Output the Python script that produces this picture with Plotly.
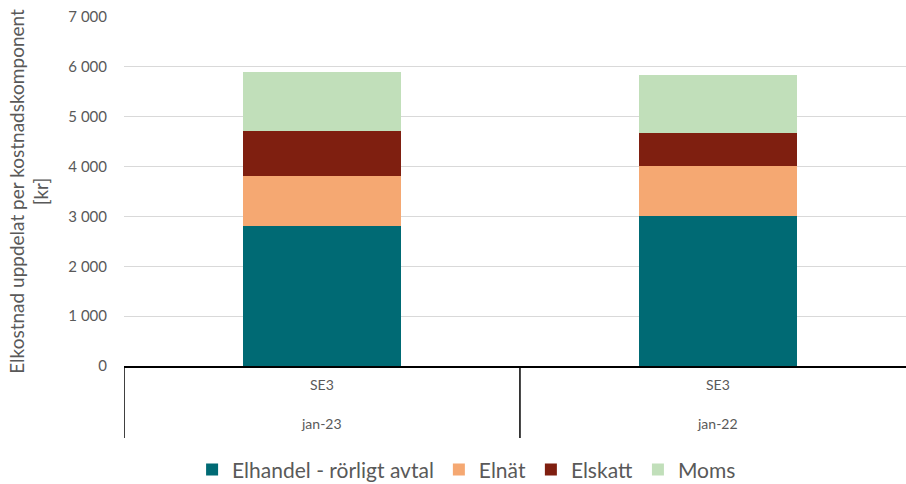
import plotly.graph_objects as go

# Period and price area for each stacked bar
periods = ["jan-23", "jan-22"]
areas = ["SE3", "SE3"]

# Cost components in kr
elhandel = [2815, 3000]
elnat = [1000, 1005]
elskatt = [905, 660]
moms = [1180, 1166]

series = [
    ("Elhandel - rörligt avtal", elhandel, "#006A74"),
    ("Elnät", elnat, "#F5A872"),
    ("Elskatt", elskatt, "#7F1F10"),
    ("Moms", moms, "#C1DFBA"),
]

pos = list(range(len(periods)))
font_family = "Lato, 'Open Sans', sans-serif"
text_color = "#595959"

fig = go.Figure()
for name, vals, color in series:
    fig.add_trace(go.Bar(
        x=pos, y=vals, name=name, width=0.4,
        marker=dict(color=color, line=dict(width=0)),
        hoverinfo="skip",
    ))

# Two-level category labels: area (upper row), period (lower row)
for p, area, period in zip(pos, areas, periods):
    fig.add_annotation(x=p, xref="x", y=-0.0544, yref="paper", text=area,
                       showarrow=False, yanchor="middle",
                       font=dict(size=14, color=text_color, family=font_family))
    fig.add_annotation(x=p, xref="x", y=-0.166, yref="paper", text=period,
                       showarrow=False, yanchor="middle",
                       font=dict(size=14, color=text_color, family=font_family))

# Category dividers below the axis line
for xb in [-0.5, 0.5]:
    fig.add_shape(type="line", xref="x", yref="paper", x0=xb, x1=xb,
                  y0=0, y1=-0.206, line=dict(color="black", width=1.5))

fig.update_layout(
    width=906, height=484,
    margin=dict(l=124, r=0, t=17, b=118),
    paper_bgcolor="white", plot_bgcolor="white",
    barmode="stack",
    separators=", ",
    font=dict(family=font_family, color=text_color),
    showlegend=True,
    legend=dict(
        orientation="h", xref="container", yref="container",
        x=0.515, xanchor="center", y=0.029, yanchor="middle",
        font=dict(size=21, color=text_color, family=font_family),
        itemwidth=30, traceorder="normal",
    ),
    xaxis=dict(
        range=[-0.5, 1.475], showgrid=False, zeroline=False,
        showticklabels=False, showline=True, linecolor="black", linewidth=1.5,
        fixedrange=True,
    ),
    yaxis=dict(
        range=[0, 7000], tickvals=[0, 1000, 2000, 3000, 4000, 5000, 6000, 7000],
        tickformat=",", showgrid=True, gridcolor="#D9D9D9", gridwidth=1,
        zeroline=False, showline=False, ticklabelstandoff=16,
        tickfont=dict(size=15, color=text_color, family=font_family),
        title=dict(text="Elkostnad uppdelat per kostnadskomponent<br>[kr]",
                   font=dict(size=19, color=text_color, family=font_family),
                   standoff=14),
    ),
)

fig.write_html("out.html")
